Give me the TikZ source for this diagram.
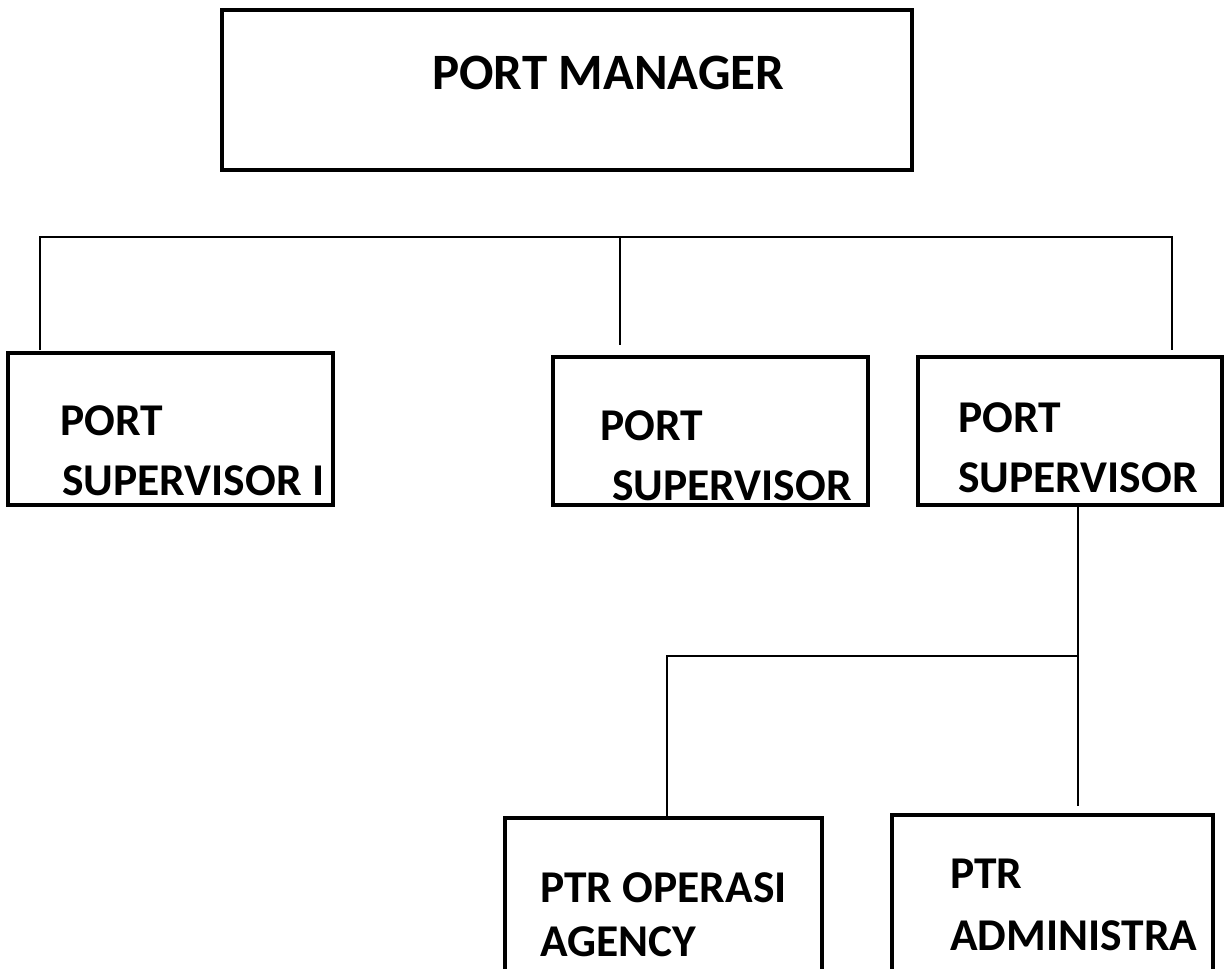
\documentclass[tikz,border=0pt]{standalone}
\usepackage{fontspec}
\setmainfont{Carlito}
\begin{document}
\begin{tikzpicture}[x=1pt,y=-1pt,
  box/.style={draw, line width=3.2pt, minimum width=#1, inner sep=0pt},
  lbl/.style={anchor=base west, inner sep=0pt, font=\bfseries\fontsize{45.5}{54}\selectfont},
  big/.style={anchor=base west, inner sep=0pt, font=\bfseries\fontsize{51}{60}\selectfont},
  conn/.style={line width=1.6pt}]
\useasboundingbox (0,0) rectangle (1230,968);
\clip (0,0) rectangle (1230,968);
% boxes
\node[box=690pt, minimum height=160pt] (pm) at (567,90) {};
\node[box=325pt, minimum height=152pt] (s1) at (170.5,429) {};
\node[box=315pt, minimum height=148pt] (s2) at (710.5,431) {};
\node[box=304pt, minimum height=148pt] (s3) at (1070,431) {};
\node[box=317pt, minimum height=160pt] (a1) at (663.5,898) {};
\node[box=321pt, minimum height=163pt] (a2) at (1052.5,896.5) {};
% texts
\node[big] (tpm) at (432,90) {PORT MANAGER};
\node[lbl] (t1a) at (60,435) {PORT};
\node[lbl] (t1b) at (62,495) {SUPERVISOR I};
\node[lbl] (t2a) at (600,440) {PORT};
\node[lbl] (t2b) at (612,500) {SUPERVISOR};
\node[lbl] (t3a) at (958,432) {PORT};
\node[lbl] (t3b) at (958,492) {SUPERVISOR};
\node[lbl] (t4a) at (540,902) {PTR OPERASI};
\node[lbl] (t4b) at (540,956) {AGENCY};
\node[lbl] (t5a) at (950,888) {PTR};
\node[lbl] (t5b) at (950,950) {ADMINISTRA};
% junctions
\coordinate (jl) at (40,237);
\coordinate (jm) at (620,237);
\coordinate (jr) at (1172,237);
\coordinate (e1) at (40,350);
\coordinate (e2) at (620,345);
\coordinate (e3) at (1172,350);
\coordinate (k) at (1078,656);
\coordinate (kl) at (667,656);
\coordinate (e5) at (1078,806);
% connectors
\draw[conn] (e1) -- (jl) -- (jr) -- (e3);
\draw[conn] (jm) -- (e2);
\draw[conn] (s3.south -| k) -- (k) -- (e5);
\draw[conn] (k) -- (kl) -- (kl |- a1.north);
\end{tikzpicture}
\end{document}
